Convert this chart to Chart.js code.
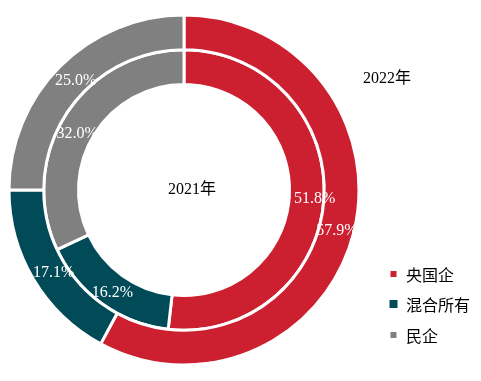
<!DOCTYPE html>
<html>
<head>
<meta charset="utf-8">
<script src="https://cdn.jsdelivr.net/npm/chart.js@4/dist/chart.umd.min.js"></script>
<style>
html,body{margin:0;padding:0;background:#fff;}
#wrap{width:481px;height:381px;position:relative;}
</style>
</head>
<body>
<div id="wrap"><canvas id="c" width="481" height="381"></canvas></div>
<script>
const categories = ['央国企', '混合所有', '民企'];
const values2022 = [57.9, 17.1, 25.0];
const values2021 = [51.8, 16.2, 32.0];
const seriesNames = ['2022年', '2021年'];
const colors = ['#CC1F30', '#004B57', '#808080'];

const serif = '"Liberation Serif", "Noto Sans CJK SC", serif';
const cjk = '"Noto Sans CJK SC", sans-serif';

// small per-label nudges (dataset index -> [dx, dy] per slice)
const nudges = [
  [[0, 2], [5, 2], [3, 2]],
  [[8, 2], [0, 3], [-3, 10]]
];

const labelPlugin = {
  id: 'labels',
  afterDatasetsDraw(chart) {
    const ctx = chart.ctx;
    ctx.save();
    ctx.font = '16px ' + serif;
    ctx.fillStyle = '#ffffff';
    ctx.textAlign = 'center';
    ctx.textBaseline = 'middle';
    chart.data.datasets.forEach((ds, di) => {
      const meta = chart.getDatasetMeta(di);
      meta.data.forEach((arc, i) => {
        const p = arc.tooltipPosition();
        const n = nudges[di][i];
        ctx.fillText(ds.data[i].toFixed(1) + '%', p.x + n[0], p.y + n[1]);
      });
    });
    // series titles
    ctx.fillStyle = '#000000';
    ctx.font = '16px ' + serif;
    ctx.fillText(seriesNames[1], 192, 190);
    ctx.fillText(seriesNames[0], 387, 79);
    // legend
    ctx.textAlign = 'left';
    ctx.font = '16px ' + cjk;
    const ys = [274, 304, 335];
    const sizes = [6, 8, 6];
    categories.forEach((c, i) => {
      const s = sizes[i];
      ctx.fillStyle = colors[i];
      ctx.fillRect(393.5 - s / 2, ys[i] - s / 2, s, s);
      ctx.fillStyle = '#000000';
      ctx.fillText(c, 406, ys[i] + 1);
    });
    ctx.restore();
  }
};

new Chart(document.getElementById('c'), {
  type: 'doughnut',
  data: {
    labels: categories,
    datasets: [
      { label: seriesNames[0], data: values2022, backgroundColor: colors, borderColor: '#ffffff', borderWidth: 3 },
      { label: seriesNames[1], data: values2021, backgroundColor: colors, borderColor: '#ffffff', borderWidth: 3 }
    ]
  },
  options: {
    responsive: false,
    animation: false,
    radius: 175,
    cutout: '60.29%',
    layout: { padding: { left: 9, right: 122, top: 15, bottom: 16 } },
    plugins: { legend: { display: false }, tooltip: { enabled: false } }
  },
  plugins: [labelPlugin]
});
</script>
</body>
</html>
